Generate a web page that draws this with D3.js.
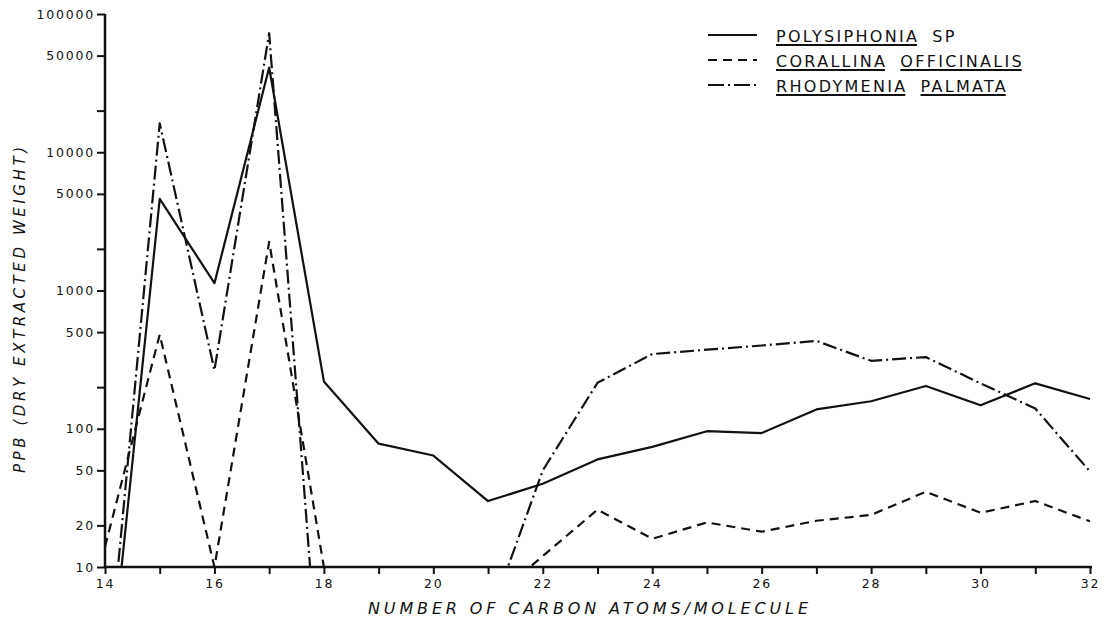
<!DOCTYPE html>
<html lang="en">
<head>
    <meta charset="UTF-8">
    <title>PPB by carbon number</title>
    <script src="https://d3js.org/d3.v7.min.js"></script>
    <style>
        body { margin: 0; background: #fff; }
        text { font-family: "DejaVu Sans", sans-serif; fill: #111; }
    </style>
</head>
<body>
<div id="chart"></div>
<script>
    // carbon number of the n-alkane
    const carbons = [14, 15, 16, 17, 18, 19, 20, 21, 22, 23, 24, 25, 26, 27, 28, 29, 30, 31, 32];

    // ppb (values under 10 run below the axis and get clipped)
    const polysiphonia = [0.7, 4600, 1130, 41000, 220, 78, 64, 30, 40, 60, 74, 96, 93, 138, 158, 204, 148, 213, 164];
    const corallina = [14, 480, 10, 2250, 10, 5.5, 5.5, 5.5, 12, 26, 16, 21, 18, 21.6, 23.8, 35, 24.7, 30, 21.4];
    const rhodymenia = [1, 16200, 265, 72600, 0.5, 1, 1, 4, 50, 215, 347, 373, 400, 432, 310, 330, 213, 140, 49];

    const seriesNames = ["POLYSIPHONIA SP", "CORALLINA OFFICINALIS", "RHODYMENIA PALMATA"];
    // which words of each name are underlined
    const underlined = [[true, false], [true, true], [true, true]];

    const yTickValues = [10, 20, 50, 100, 200, 500, 1000, 2000, 5000, 10000, 20000, 50000, 100000];
    const yTickLabels = ["10", "20", "50", "100", "", "500", "1000", "", "5000", "10000", "", "50000", "100000"];
    const xTickValues = d3.range(14, 33);

    const W = 1104, H = 622;
    const plotLeft = 105, plotRight = 1090, plotTop = 14, plotBottom = 567;

    const svg = d3.select("#chart").append("svg")
        .attr("width", W)
        .attr("height", H);

    const x = d3.scaleLinear().domain([14, 32]).range([plotLeft, plotRight]);
    const y = d3.scaleLog().domain([10, 100000]).range([plotBottom, plotTop]);

    svg.append("clipPath").attr("id", "plot")
        .append("rect")
        .attr("x", plotLeft).attr("y", 0)
        .attr("width", plotRight - plotLeft + 4).attr("height", plotBottom);

    const dashes = ["none", "9,6", "14,4,2,4"];
    const allSeries = [polysiphonia, corallina, rhodymenia];

    const line = d3.line()
        .x(d => x(d[0]))
        .y(d => y(d[1]));

    allSeries.forEach((vals, i) => {
        svg.append("path")
            .datum(carbons.map((c, j) => [c, vals[j]]))
            .attr("clip-path", "url(#plot)")
            .attr("fill", "none")
            .attr("stroke", "#111")
            .attr("stroke-width", 2.2)
            .attr("stroke-linejoin", "round")
            .attr("stroke-dasharray", dashes[i])
            .attr("d", line);
    });

    // axes
    const yAxis = d3.axisLeft(y)
        .tickValues(yTickValues)
        .tickSize(8)
        .tickPadding(2)
        .tickFormat((d, i) => yTickLabels[i]);

    const xAxis = d3.axisBottom(x)
        .tickValues(xTickValues)
        .tickSize(7)
        .tickPadding(5)
        .tickFormat(d => d % 2 === 0 ? d : "");

    const gy = svg.append("g")
        .attr("transform", `translate(${plotLeft},0)`)
        .call(yAxis);
    const gx = svg.append("g")
        .attr("transform", `translate(0,${plotBottom})`)
        .call(xAxis);

    [gx, gy].forEach(g => {
        g.select(".domain").attr("stroke", "#111").attr("stroke-width", 2.5);
        g.selectAll(".tick line").attr("stroke", "#111").attr("stroke-width", 2);
        g.selectAll(".tick text")
            .style("font-family", "'DejaVu Sans', sans-serif")
            .style("font-size", "12.5px")
            .style("letter-spacing", "1.8px")
            .attr("fill", "#111");
    });
    gy.select(".domain").attr("d", `M0,${plotBottom}V${plotTop}`);
    gx.select(".domain").attr("d", `M${plotLeft},0H${plotRight + 2}`);

    // axis titles
    svg.append("text")
        .attr("x", 368)
        .attr("y", 614)
        .attr("textLength", 440)
        .attr("lengthAdjust", "spacing")
        .style("font-size", "16px")
        .style("font-style", "italic")
        .text("NUMBER OF CARBON ATOMS/MOLECULE");

    svg.append("text")
        .attr("transform", "translate(25,473) rotate(-90)")
        .attr("textLength", 326)
        .attr("lengthAdjust", "spacing")
        .style("font-size", "15px")
        .style("font-style", "italic")
        .text("PPB (DRY EXTRACTED WEIGHT)");

    // legend
    const legend = svg.append("g");
    seriesNames.forEach((name, i) => {
        const ly = 35 + i * 25;
        legend.append("line")
            .attr("x1", 708).attr("x2", 757)
            .attr("y1", ly).attr("y2", ly)
            .attr("stroke", "#111")
            .attr("stroke-width", 2.2)
            .attr("stroke-dasharray", i === 2 ? "16,4,2,4" : dashes[i]);

        let wx = 776;
        name.split(" ").forEach((word, k) => {
            const t = legend.append("text")
                .attr("x", wx)
                .attr("y", ly + 7)
                .style("font-size", "16px")
                .style("letter-spacing", "2.3px")
                .text(word);
            const w = t.node().getComputedTextLength();
            if (underlined[i][k]) {
                legend.append("line")
                    .attr("x1", wx).attr("x2", wx + w - 2.3)
                    .attr("y1", ly + 10).attr("y2", ly + 10)
                    .attr("stroke", "#111")
                    .attr("stroke-width", 1.8);
            }
            wx += w + 13;
        });
    });
</script>
</body>
</html>
